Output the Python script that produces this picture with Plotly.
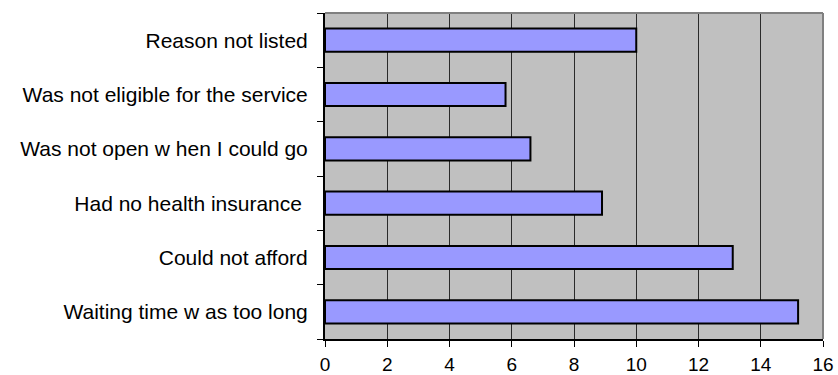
import plotly.graph_objects as go

# Reasons for not getting the service, listed bottom to top
reasons = [
    "Waiting time w as too long",
    "Could not afford",
    "Had no health insurance\u00a0",
    "Was not open w hen I could go",
    "Was not eligible for the service",
    "Reason not listed",
]
percent = [15.2, 13.1, 8.9, 6.6, 5.8, 10.0]
x_ticks = [0, 2, 4, 6, 8, 10, 12, 14, 16]

family = "Liberation Sans, Arial, sans-serif"
y_font = dict(family=family, size=21, color="#000000")
x_font = dict(family=family, size=19, color="#000000")

fig = go.Figure(
    go.Bar(
        x=percent,
        y=reasons,
        orientation="h",
        marker=dict(color="#9999FF", line=dict(color="#000000", width=2)),
        hoverinfo="x+y",
    )
)

fig.update_layout(
    width=838,
    height=375,
    margin=dict(l=325, r=15, t=13, b=36),
    paper_bgcolor="#FFFFFF",
    plot_bgcolor="#C0C0C0",
    bargap=0.575,
    showlegend=False,
    font=y_font,
    xaxis=dict(
        range=[0, 16],
        tickvals=x_ticks,
        ticktext=[str(v) for v in x_ticks],
        showgrid=True,
        gridcolor="#2a2a2a",
        gridwidth=1.3,
        zeroline=False,
        showline=True,
        linecolor="#000000",
        linewidth=1.5,
        ticks="outside",
        ticklen=6,
        tickcolor="#000000",
        tickfont=x_font,
        ticklabelstandoff=1,
        automargin=False,
        fixedrange=True,
    ),
    yaxis=dict(
        type="category",
        categoryorder="array",
        categoryarray=reasons,
        showgrid=False,
        zeroline=False,
        showline=True,
        linecolor="#000000",
        linewidth=2,
        ticks="outside",
        tickson="boundaries",
        ticklen=6,
        tickcolor="#000000",
        tickfont=y_font,
        ticklabelstandoff=11,
        automargin=False,
        fixedrange=True,
    ),
    shapes=[
        # grey frame along the top and right of the plotting area
        dict(type="line", xref="paper", yref="paper", x0=0, x1=1, y0=1, y1=1,
             line=dict(color="#808080", width=2)),
        dict(type="line", xref="paper", yref="paper", x0=1, x1=1, y0=0, y1=1,
             line=dict(color="#808080", width=2)),
    ],
)

fig.write_html("out.html")
